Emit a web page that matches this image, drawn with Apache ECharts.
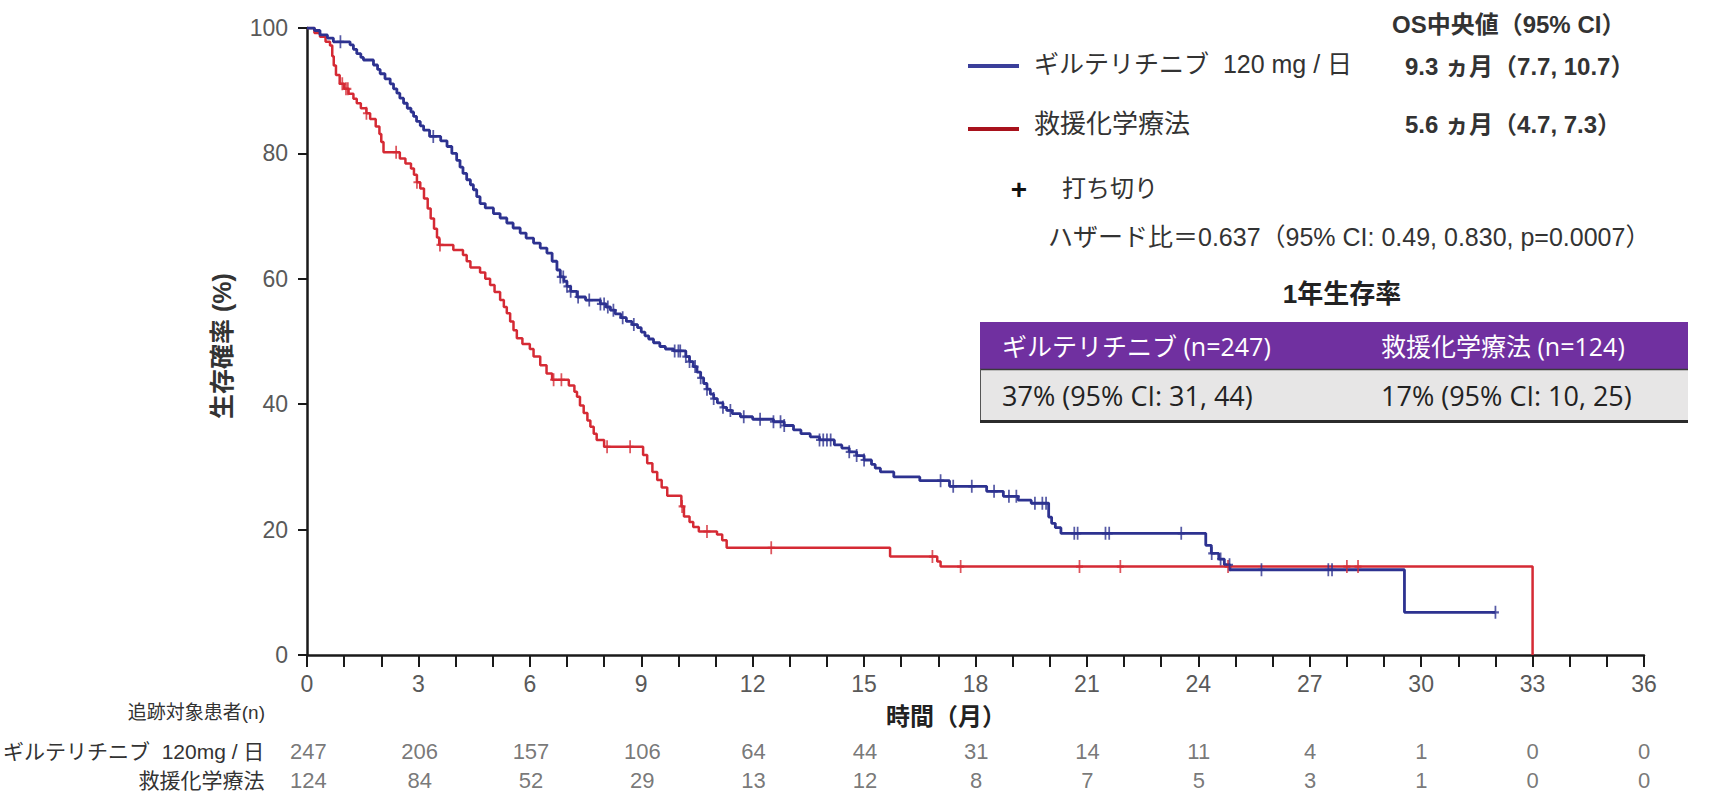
<!DOCTYPE html>
<html>
<head>
<meta charset="utf-8">
<script src="https://cdn.jsdelivr.net/npm/echarts@6/dist/echarts.min.js"></script>
<style>
  html, body { margin: 0; padding: 0; background: #ffffff; }
  #chart { width: 1721px; height: 791px; }
</style>
</head>
<body>
<div id="chart"></div>
<script>
// Kaplan-Meier steps: [month, survival % after the event]
const giltSteps = [
  [0,100],[0.2,99.6],[0.35,98.9],[0.55,98.4],[0.71,97.8],[1.16,97.3],[1.25,96.6],[1.34,95.9],
  [1.45,95.3],[1.52,94.9],[1.79,94.1],[1.9,93.4],[1.97,92.7],[2.1,91.9],[2.24,91.1],[2.33,90.3],
  [2.42,89.6],[2.5,88.8],[2.6,88.0],[2.7,87.2],[2.8,86.6],[2.87,85.9],[2.95,85.1],[3.05,84.4],
  [3.14,83.7],[3.3,82.7],[3.6,82.0],[3.77,81.1],[3.9,80.0],[4.03,78.9],[4.12,77.8],[4.2,76.8],
  [4.3,75.8],[4.4,75.0],[4.48,74.2],[4.57,73.1],[4.66,72.0],[4.8,71.3],[5.02,70.4],[5.2,69.7],
  [5.38,68.9],[5.55,68.1],[5.74,67.3],[5.9,66.5],[6.1,65.7],[6.28,64.9],[6.46,64.1],[6.6,62.8],
  [6.73,61.4],[6.82,60.3],[6.92,59.6],[7.0,58.8],[7.1,58.0],[7.27,57.1],[7.5,56.6],[7.9,56.0],
  [8.05,55.5],[8.17,55.0],[8.3,54.4],[8.45,53.8],[8.6,53.2],[8.75,52.7],[8.9,52.2],[9.0,51.5],
  [9.1,50.9],[9.2,50.4],[9.33,49.8],[9.5,49.2],[9.65,48.8],[9.87,48.5],[10.2,47.6],[10.3,46.8],
  [10.4,46.0],[10.5,45.1],[10.6,44.2],[10.68,43.3],[10.77,42.4],[10.86,41.6],[10.95,40.9],
  [11.05,40.2],[11.2,39.5],[11.3,39.0],[11.45,38.5],[11.67,38.0],[12.0,37.6],[12.56,37.2],
  [12.85,36.6],[13.1,35.9],[13.3,35.3],[13.55,34.8],[13.8,34.3],[14.2,33.5],[14.4,33.0],
  [14.6,32.4],[14.8,31.8],[15.0,31.1],[15.2,30.4],[15.3,29.8],[15.44,29.2],[15.8,28.4],
  [16.5,27.8],[17.3,26.9],[18.3,26.1],[18.75,25.3],[19.15,24.7],[19.5,24.2],[19.97,22.0],
  [20.05,21.0],[20.15,20.3],[20.3,19.4],[24.2,17.5],[24.35,16.2],[24.55,15.3],[24.7,14.4],
  [24.85,13.6],[29.55,6.8],[32.0,6.8]
];
const chemoSteps = [
  [0,100],[0.2,99.2],[0.35,98.6],[0.5,97.8],[0.62,97.2],[0.68,95.5],[0.72,94.0],[0.78,92.5],
  [0.88,91.1],[1.0,90.3],[1.12,89.5],[1.25,88.7],[1.34,88.0],[1.45,87.2],[1.6,86.4],[1.7,85.5],
  [1.85,84.3],[1.95,83.1],[2.0,81.8],[2.06,80.2],[2.5,79.2],[2.65,78.4],[2.8,77.6],[2.88,76.6],
  [2.96,75.4],[3.05,74.4],[3.15,72.8],[3.25,71.2],[3.33,69.6],[3.42,68.0],[3.5,66.6],[3.56,65.4],
  [3.94,64.6],[4.2,63.8],[4.3,62.8],[4.4,61.8],[4.66,61.0],[4.8,60.0],[4.93,59.0],[5.05,57.9],
  [5.2,56.6],[5.3,55.5],[5.38,54.5],[5.47,53.2],[5.56,51.8],[5.65,50.5],[5.8,49.6],[6.0,48.8],
  [6.1,47.6],[6.28,46.2],[6.45,44.9],[6.6,43.9],[7.05,43.0],[7.2,42.0],[7.27,41.2],[7.35,39.8],
  [7.45,38.6],[7.55,37.4],[7.63,36.4],[7.72,35.3],[7.8,34.3],[8.0,33.2],[9.05,31.9],[9.16,30.6],
  [9.3,29.2],[9.43,27.9],[9.55,26.7],[9.7,25.4],[10.08,23.7],[10.15,22.1],[10.3,21.2],[10.4,20.4],
  [10.55,19.7],[11.04,19.2],[11.18,18.3],[11.3,17.1],[15.7,15.7],[16.97,14.9],[17.06,14.1],[33.0,0]
];

// Censoring times (months)
const giltCensor = [0.9, 3.4, 6.82, 6.9, 7.0, 7.1, 7.3, 7.6, 7.9, 8.0, 8.1, 8.25, 8.5, 8.8,
  9.9, 10.0, 10.05, 10.2, 10.3, 10.45, 10.6, 10.77, 10.95, 11.2, 11.4, 11.76, 12.2, 12.56, 12.75,
  12.85, 13.8, 13.9, 14.0, 14.1, 14.6, 14.8, 15.0, 17.06, 17.4, 17.9, 18.5, 18.9, 19.1, 19.6,
  19.8, 19.9, 20.66, 20.75, 21.5, 21.6, 23.54, 24.36, 24.6, 24.84, 25.7, 27.5, 27.6, 32.0];
const chemoCensor = [0.95, 1.05, 1.1, 1.6, 2.4, 2.96, 3.58, 6.64, 6.85, 8.08, 8.7, 10.1, 10.77,
  12.5, 16.84, 17.6, 20.8, 21.9, 24.8, 28.0, 28.3];

// Numbers at risk
const riskMonths = [0, 3, 6, 9, 12, 15, 18, 21, 24, 27, 30, 33, 36];
const riskGilt = [247, 206, 157, 106, 64, 44, 31, 14, 11, 4, 1, 0, 0];
const riskChemo = [124, 84, 52, 29, 13, 12, 8, 7, 5, 3, 1, 0, 0];

const nameGilt = 'ギルテリチニブ  120 mg / 日';
const nameChemo = '救援化学療法';
const rowGilt = 'ギルテリチニブ  120mg / 日';
const rowChemo = '救援化学療法';

const BLUE = '#2d3290';
const RED = '#d52a34';
const FONT = "'Liberation Sans', Arial, 'Noto Sans CJK JP', sans-serif";
const TFONT = "'Open Sans', 'Noto Sans CJK JP', sans-serif";

// survival value of a step curve at time t (last step at or before t)
function survAt(steps, t) {
  let v = steps[0][1];
  for (const s of steps) { if (s[0] <= t) v = s[1]; else break; }
  return v;
}

const plus = 'path://M-1,-6L1,-6L1,-1L4,-1L4,1L1,1L1,6L-1,6L-1,1L-4,1L-4,-1L-1,-1Z';

const riskData = [];
riskMonths.forEach((m, i) => {
  riskData.push([m, rowGilt, riskGilt[i]]);
  riskData.push([m, rowChemo, riskChemo[i]]);
});

function txt(x, y, text, size, opts) {
  opts = opts || {};
  return {
    type: 'text', x: x, y: y, silent: true, rotation: opts.rotation || 0,
    style: {
      text: text,
      fontSize: size,
      fontFamily: opts.family || FONT,
      fontWeight: opts.bold ? 'bold' : 'normal',
      fill: opts.color || '#333333',
      textAlign: opts.align || 'left', align: opts.align || 'left',
      textVerticalAlign: 'middle', verticalAlign: 'middle'
    }
  };
}

const chart = echarts.init(document.getElementById('chart'), null, { renderer: 'svg' });

const tableX = 980, tableW = 708;
const graphics = [
  txt(222, 346, '生存確率 (%)', 25, { bold: true, align: 'center', rotation: Math.PI / 2, color: '#333' }),
  txt(946, 716, '時間（月）', 24, { bold: true, align: 'center', color: '#222' }),
  txt(265, 712, '追跡対象患者(n)', 19, { align: 'right', color: '#333' }),

  txt(1392, 24, 'OS中央値（95% CI）', 24, { bold: true, color: '#333' }),
  { type: 'line', silent: true, shape: { x1: 968, y1: 66, x2: 1019, y2: 66 }, style: { stroke: '#3b3f9a', lineWidth: 4 } },
  txt(1034, 64, nameGilt, 25, { color: '#333' }),
  txt(1405, 66, '9.3 ヵ月（7.7, 10.7）', 24, { bold: true, color: '#333' }),
  { type: 'line', silent: true, shape: { x1: 968, y1: 129, x2: 1019, y2: 129 }, style: { stroke: '#a8121c', lineWidth: 4 } },
  txt(1034, 124, nameChemo, 26, { color: '#333' }),
  txt(1405, 124, '5.6 ヵ月（4.7, 7.3）', 24, { bold: true, color: '#333' }),
  txt(1019, 189, '+', 28, { bold: true, align: 'center', color: '#111' }),
  txt(1062, 188, '打ち切り', 24, { color: '#333' }),
  txt(1048, 237, 'ハザード比＝0.637（95% CI: 0.49, 0.830, p=0.0007）', 25, { color: '#333' }),
  txt(1342, 294, '1年生存率', 26, { bold: true, align: 'center', color: '#222' }),

  { type: 'rect', silent: true, shape: { x: tableX, y: 322, width: tableW, height: 47 }, style: { fill: '#7030a0' } },
  { type: 'rect', silent: true, shape: { x: tableX, y: 369, width: tableW, height: 51 }, style: { fill: '#e7e6e6' } },
  { type: 'line', silent: true, shape: { x1: tableX, y1: 369.5, x2: tableX + tableW, y2: 369.5 }, style: { stroke: '#3a3a3a', lineWidth: 1.5 } },
  { type: 'line', silent: true, shape: { x1: tableX + 0.5, y1: 369, x2: tableX + 0.5, y2: 421 }, style: { stroke: '#555', lineWidth: 1 } },
  { type: 'line', silent: true, shape: { x1: tableX, y1: 421.5, x2: tableX + tableW, y2: 421.5 }, style: { stroke: '#2b2b2b', lineWidth: 3 } },
  txt(1002, 346, 'ギルテリチニブ (n=247)', 25, { color: '#ffffff', family: TFONT }),
  txt(1381, 346, '救援化学療法 (n=124)', 25, { color: '#ffffff', family: TFONT }),
  txt(1002, 395, '37% (95% CI: 31, 44)', 27, { color: '#222', family: TFONT }),
  txt(1381, 395, '17% (95% CI: 10, 25)', 27, { color: '#222', family: TFONT })
];

const option = {
  animation: false,
  backgroundColor: '#ffffff',
  grid: [
    { left: 307, top: 28, width: 1337, height: 627 },
    { left: 307, top: 751, width: 1337, height: 29 }
  ],
  xAxis: [
    {
      gridIndex: 0, type: 'value', min: 0, max: 36, interval: 3,
      axisLine: { show: true, onZero: false, lineStyle: { color: '#1a1a1a', width: 2.5 } },
      axisTick: { show: true, length: 12, lineStyle: { color: '#1a1a1a', width: 2 } },
      minorTick: { show: true, splitNumber: 3, length: 12, lineStyle: { color: '#1a1a1a', width: 2 } },
      axisLabel: { fontSize: 23, color: '#595959', margin: 17, fontFamily: FONT },
      splitLine: { show: false }
    },
    { gridIndex: 1, type: 'value', min: 0, max: 36, show: false }
  ],
  yAxis: [
    {
      gridIndex: 0, type: 'value', min: 0, max: 100, interval: 20,
      axisLine: { show: true, lineStyle: { color: '#1a1a1a', width: 2.5 } },
      axisTick: { show: true, length: 9, lineStyle: { color: '#1a1a1a', width: 2 } },
      axisLabel: { fontSize: 23, color: '#595959', margin: 19, fontFamily: FONT },
      splitLine: { show: false }
    },
    {
      gridIndex: 1, type: 'category', inverse: true, boundaryGap: false, data: [rowGilt, rowChemo],
      axisLine: { show: false }, axisTick: { show: false }, splitLine: { show: false },
      axisLabel: { interval: 0, hideOverlap: false, fontSize: 21, color: '#333', margin: 44, fontFamily: FONT }
    }
  ],
  graphic: graphics,
  series: [
    {
      name: nameChemo, type: 'line', step: 'end', data: chemoSteps, symbol: 'none',
      lineStyle: { color: RED, width: 2.5 }, z: 2, silent: true
    },
    {
      name: nameGilt, type: 'line', step: 'end', data: giltSteps, symbol: 'none',
      lineStyle: { color: BLUE, width: 2.8 }, z: 3, silent: true
    },
    {
      type: 'scatter', data: chemoCensor.map(t => [t, survAt(chemoSteps, t)]),
      symbol: plus, symbolSize: [7, 13], itemStyle: { color: RED }, z: 4, silent: true
    },
    {
      type: 'scatter', data: giltCensor.map(t => [t, survAt(giltSteps, t)]),
      symbol: plus, symbolSize: [7, 13], itemStyle: { color: BLUE }, z: 5, silent: true
    },
    {
      type: 'scatter', xAxisIndex: 1, yAxisIndex: 1, data: riskData, symbolSize: 1,
      itemStyle: { color: 'rgba(0,0,0,0)' }, silent: true,
      label: {
        show: true, position: 'inside', fontSize: 22, color: '#555', fontFamily: FONT,
        formatter: p => String(p.value[2])
      }
    }
  ]
};

chart.setOption(option);
</script>
</body>
</html>
